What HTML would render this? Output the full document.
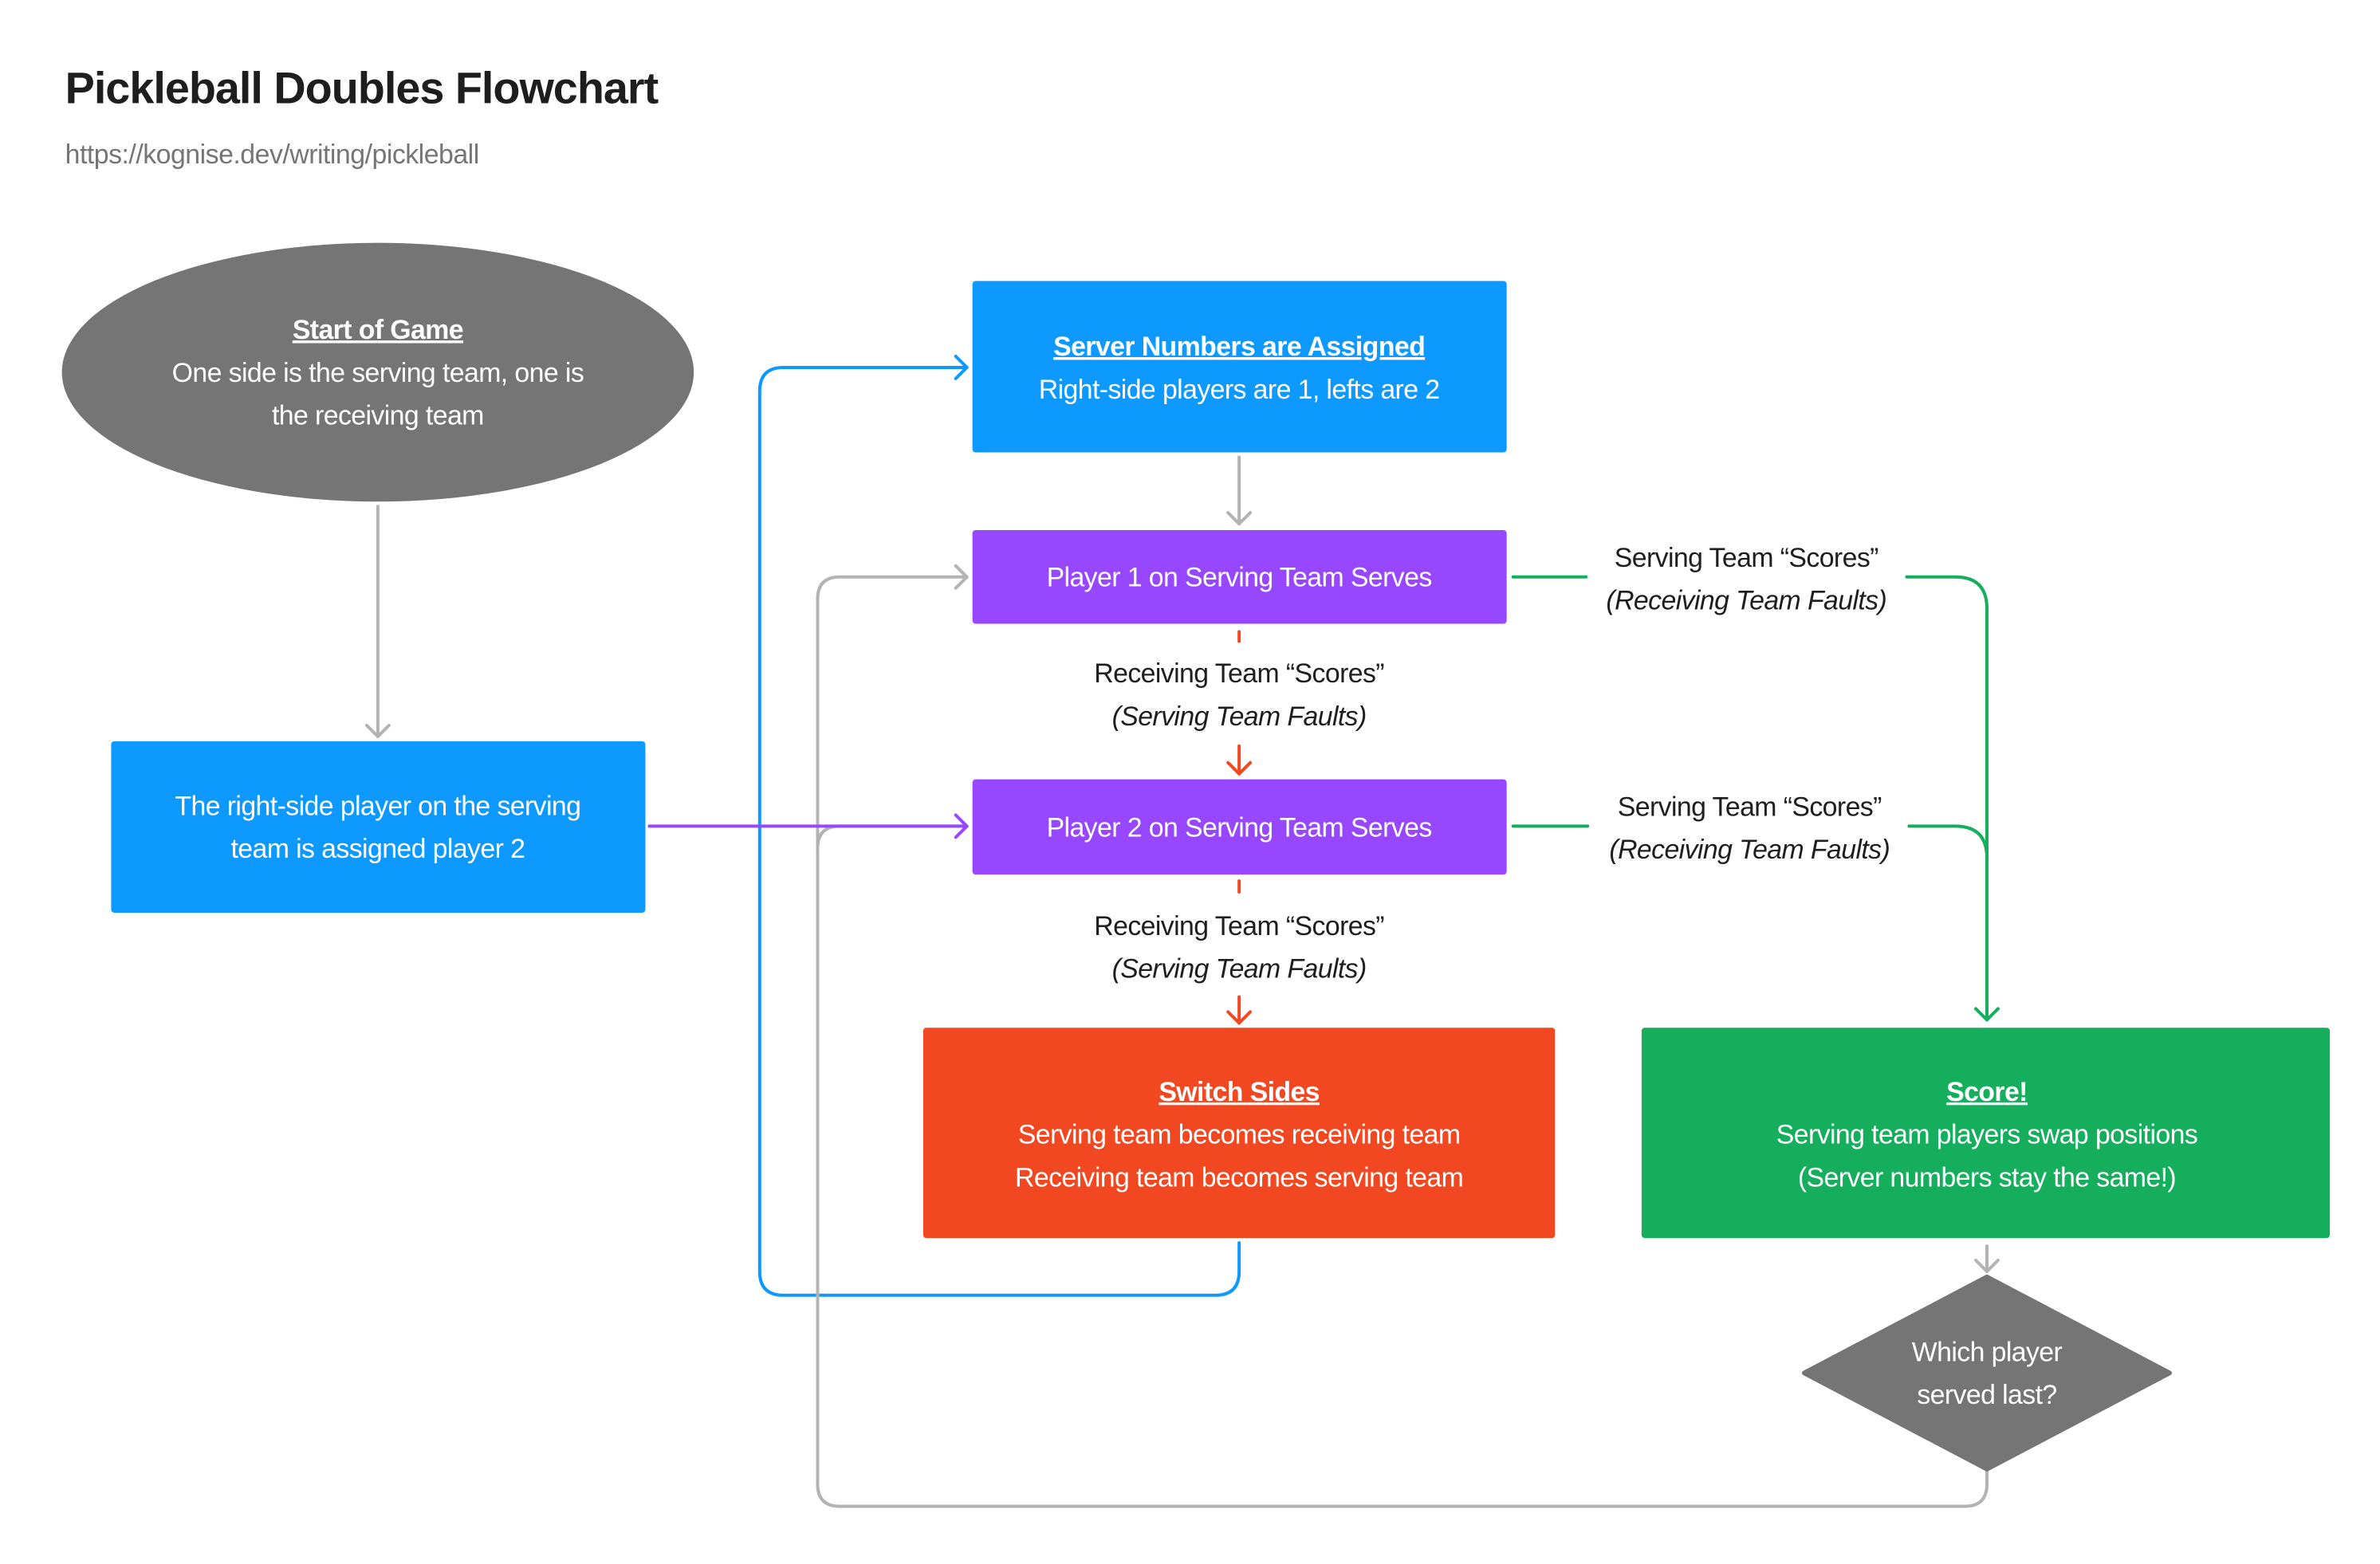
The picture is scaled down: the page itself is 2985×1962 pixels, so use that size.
<!DOCTYPE html>
<html><head><meta charset="utf-8"><style>
html,body{margin:0;padding:0;background:#fff;}
svg{display:block;}
text{font-family:"Liberation Sans",sans-serif;}
</style></head><body>
<svg width="2985" height="1962" viewBox="0 0 2985 1962" xmlns="http://www.w3.org/2000/svg">
<rect width="2985" height="1962" fill="#fff"/>
<g transform="scale(0.9956)">
<text x="82" y="130" font-size="56" font-weight="bold" fill="#1e1e1e" letter-spacing="-1">Pickleball Doubles Flowchart</text>
<text x="82" y="206" font-size="34" fill="#757575" letter-spacing="-0.5">https://kognise.dev/writing/pickleball</text>

<g fill="none" stroke-width="4" stroke-linecap="round" stroke-linejoin="round">
<path d="M476 638 V928" stroke="#b3b3b3"/>
<path d="M462 914 L476 928 L490 914" stroke="#b3b3b3"/>
<path d="M1561 576 V660" stroke="#b3b3b3"/>
<path d="M1547 646 L1561 660 L1575 646" stroke="#b3b3b3"/>
<path d="M1561 1566 V1602 Q1561 1632 1531 1632 H987 Q957 1632 957 1602 V493 Q957 463 987 463 H1218" stroke="#0d99ff"/>
<path d="M1204 449 L1218 463 L1204 477" stroke="#0d99ff"/>
<path d="M2503 1852 V1870 Q2503 1898 2475 1898 H1058 Q1030 1898 1030 1870 V755 Q1030 727 1058 727 H1218" stroke="#b3b3b3"/>
<path d="M1030 1069 Q1030 1041 1058 1041 H1218" stroke="#b3b3b3"/>
<path d="M1204 713 L1218 727 L1204 741" stroke="#b3b3b3"/>
<path d="M818 1041 H1218" stroke="#9747ff"/>
<path d="M1204 1027 L1218 1041 L1204 1055" stroke="#9747ff"/>
<path d="M1561 796 V808" stroke="#f24822"/>
<path d="M1561 940 V975" stroke="#f24822"/>
<path d="M1547 961 L1561 975 L1575 961" stroke="#f24822"/>
<path d="M1561 1110 V1124" stroke="#f24822"/>
<path d="M1561 1256 V1289" stroke="#f24822"/>
<path d="M1547 1275 L1561 1289 L1575 1275" stroke="#f24822"/>
<path d="M1906 727 H1998" stroke="#14ae5c"/>
<path d="M2402 727 H2463 Q2503 727 2503 767 V1285" stroke="#14ae5c"/>
<path d="M1906 1041 H2000" stroke="#14ae5c"/>
<path d="M2405 1041 H2463 Q2503 1041 2503 1081" stroke="#14ae5c"/>
<path d="M2489 1271 L2503 1285 L2517 1271" stroke="#14ae5c"/>
<path d="M2503 1570 V1602" stroke="#b3b3b3"/>
<path d="M2489 1588 L2503 1602 L2517 1588" stroke="#b3b3b3"/>
</g>

<ellipse cx="476" cy="469" rx="398" ry="163" fill="#757575"/>
<rect x="140" y="934" width="673" height="216" rx="4" fill="#0d99ff"/>
<rect x="1225" y="354" width="673" height="216" rx="4" fill="#0d99ff"/>
<rect x="1225" y="668" width="673" height="118" rx="4" fill="#9747ff"/>
<rect x="1225" y="982" width="673" height="120" rx="4" fill="#9747ff"/>
<rect x="1163" y="1295" width="796" height="265" rx="4" fill="#f24822"/>
<rect x="2068" y="1295" width="867" height="265" rx="4" fill="#14ae5c"/>
<path d="M2503 1609 L2733 1730 L2503 1851 L2273 1730 Z" fill="#757575" stroke="#757575" stroke-width="6" stroke-linejoin="round"/>

<g font-size="34" fill="#fff" text-anchor="middle" letter-spacing="-0.6">
<text x="476" y="427" font-weight="bold" text-decoration="underline">Start of Game</text>
<text x="476" y="481">One side is the serving team, one is</text>
<text x="476" y="535">the receiving team</text>
<text x="476" y="1027">The right-side player on the serving</text>
<text x="476" y="1081">team is assigned player 2</text>
<text x="1561" y="448" font-weight="bold" text-decoration="underline">Server Numbers are Assigned</text>
<text x="1561" y="502">Right-side players are 1, lefts are 2</text>
<text x="1561" y="739">Player 1 on Serving Team Serves</text>
<text x="1561" y="1054">Player 2 on Serving Team Serves</text>
<text x="1561" y="1387" font-weight="bold" text-decoration="underline">Switch Sides</text>
<text x="1561" y="1441">Serving team becomes receiving team</text>
<text x="1561" y="1495">Receiving team becomes serving team</text>
<text x="2503" y="1387" font-weight="bold" text-decoration="underline">Score!</text>
<text x="2503" y="1441">Serving team players swap positions</text>
<text x="2503" y="1495">(Server numbers stay the same!)</text>
<text x="2503" y="1715">Which player</text>
<text x="2503" y="1769">served last?</text>
</g>

<g font-size="34" fill="#1e1e1e" text-anchor="middle" letter-spacing="-0.6">
<text x="1561" y="860">Receiving Team “Scores”</text>
<text x="1561" y="914" font-style="italic">(Serving Team Faults)</text>
<text x="1561" y="1178">Receiving Team “Scores”</text>
<text x="1561" y="1232" font-style="italic">(Serving Team Faults)</text>
<text x="2200" y="714">Serving Team “Scores”</text>
<text x="2200" y="768" font-style="italic">(Receiving Team Faults)</text>
<text x="2204" y="1028">Serving Team “Scores”</text>
<text x="2204" y="1082" font-style="italic">(Receiving Team Faults)</text>
</g>
</g>
</svg>
</body></html>
